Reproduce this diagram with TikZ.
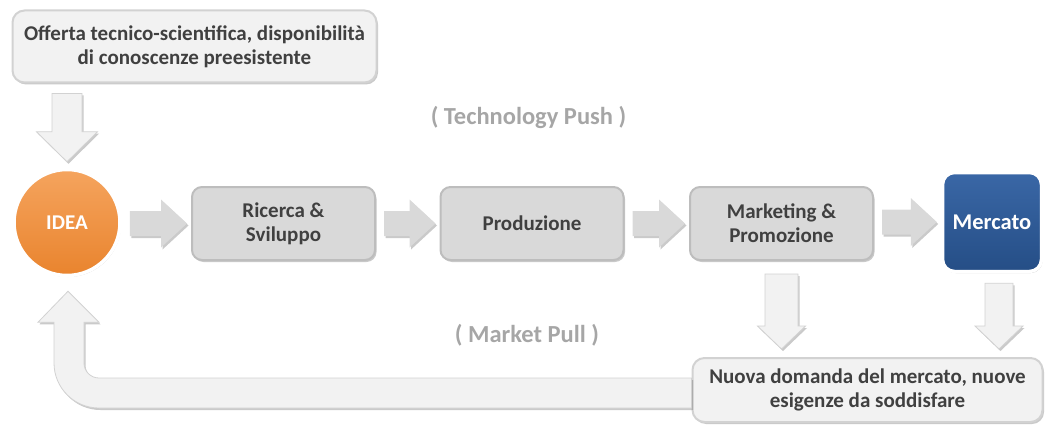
\documentclass[tikz,border=0pt]{standalone}
\usepackage{fontspec}
\setmainfont{Carlito}
\usetikzlibrary{calc,shadows}
\definecolor{txt}{HTML}{404040}
\definecolor{boxfill}{HTML}{D9D9D9}
\definecolor{boxdraw}{HTML}{BDBDBD}
\definecolor{lightfill}{HTML}{F2F2F2}
\definecolor{lightdraw}{HTML}{D2D2D2}
\definecolor{ideatop}{HTML}{F5A45E}
\definecolor{ideabot}{HTML}{E9842E}
\definecolor{merctop}{HTML}{3A67A6}
\definecolor{mercbot}{HTML}{254E86}
\definecolor{labelgray}{HTML}{A6A6A6}
\definecolor{arrowfill}{HTML}{D9D9D9}
\tikzset{
  shad/.style={drop shadow={shadow xshift=1.5pt,shadow yshift=-2pt,opacity=0.35,fill=black!60}},
  graybox/.style={shad,rectangle,rounded corners=10pt,fill=boxfill,draw=boxdraw,line width=2pt,
    minimum width=183pt,minimum height=73pt,align=center,text=txt,font=\fontsize{21}{24}\selectfont\bfseries},
  lightbox/.style={shad,rectangle,rounded corners=12pt,fill=lightfill,draw=lightdraw,line width=2pt,
    align=center,text=txt,font=\fontsize{21}{24}\selectfont\bfseries},
  hblock/.style={fill=arrowfill,draw=none,shad},
  vblock/.style={fill=lightfill,draw=lightdraw,line width=0.8pt,shad},
  lbl/.style={text=labelgray,font=\fontsize{24.5}{28}\selectfont\bfseries},
}
% horizontal block arrow between two nodes: #1 from, #2 to
\newcommand\harrow[2]{%
  \path[hblock] let \p1=($(#1.east)+(8,0)$), \p2=($(#2.west)+(-4,0)$) in
    (\x1,\y2+12.5pt) -- (\x2-26pt,\y2+12.5pt) -- (\x2-26pt,\y2+24pt) -- (\x2,\y2)
    -- (\x2-26pt,\y2-24pt) -- (\x2-26pt,\y2-12.5pt) -- (\x1,\y2-12.5pt) -- cycle;}
% vertical block arrow: #1 top coordinate, #2 tip coordinate, #3 shaft half, #4 head half, #5 head length
\newcommand\varrow[5]{%
  \path[vblock] let \p1=(#1), \p2=(#2) in
    (\x2-#3,\y1) -- (\x2+#3,\y1) -- (\x2+#3,\y2+#5) -- (\x2+#4,\y2+#5) -- (\x2,\y2)
    -- (\x2-#4,\y2+#5) -- (\x2-#3,\y2+#5) -- cycle;}
\begin{document}
\begin{tikzpicture}[x=1pt,y=-1pt]
\useasboundingbox (0,0) rectangle (1046,433);

% nodes
\node[lightbox,minimum width=364pt,minimum height=72pt] (offerta) at (194.5,46.5)
  {Offerta tecnico-scientifica, disponibilità\\di conoscenze preesistente};
\node[circle,minimum size=106pt,draw=white,line width=3.5pt,top color=ideatop,bottom color=ideabot,
  drop shadow={shadow xshift=1pt,shadow yshift=-1.5pt,opacity=0.3,fill=black!60},
  text=white,font=\fontsize{21}{24}\selectfont\bfseries] (idea) at (67,222.5) {IDEA};
\node[graybox] (rs) at (283.5,223.5) {Ricerca \&\\Sviluppo};
\node[graybox] (prod) at (532,223.5) {Produzione};
\node[graybox] (mkt) at (781.5,223.5) {Marketing \&\\Promozione};
\node[rectangle,rounded corners=12pt,minimum width=99pt,minimum height=99pt,draw=white,line width=3.5pt,
  top color=merctop,bottom color=mercbot,
  drop shadow={shadow xshift=1pt,shadow yshift=-1.5pt,opacity=0.5,fill=black!70},
  text=white,font=\fontsize{22.5}{26}\selectfont\bfseries] (merc) at (992,222) {Mercato};
\node[lightbox,minimum width=350pt,minimum height=64pt] (nuova) at (867.5,390)
  {Nuova domanda del mercato, nuove\\esigenze da soddisfare};

% labels
\node[lbl] (tp) at (528.5,117) {( Technology Push )};
\node[lbl] (mp) at (527,335) {( Market Pull )};

% horizontal arrows
\harrow{idea}{rs}
\harrow{rs}{prod}
\harrow{prod}{mkt}
\harrow{mkt}{merc}

% vertical arrows
\coordinate (t1) at ($(offerta.south)+(0,10)$);
\coordinate (t1s) at (t1 -| idea.north);
\coordinate (t1e) at ($(idea.north)+(0,-6)$);
\varrow{t1s}{t1e}{15pt}{30.5pt}{30pt}
\coordinate (m1s) at ($(mkt.south)+(0,13)$);
\coordinate (m1e) at ($(nuova.north -| mkt.south)+(0,-8)$);
\varrow{m1s}{m1e}{16.5pt}{24pt}{23pt}
\coordinate (m2s) at ($(merc.south)+(7,10)$);
\coordinate (m2e) at ($(nuova.north -| m2s)+(0,-8)$);
\varrow{m2s}{m2e}{14pt}{24pt}{23pt}

% U-turn arrow back to IDEA (canvas y points up inside let)
\coordinate (ustart) at ($(nuova.west)+(0,3)$);
\coordinate (utip) at ($(idea.south)+(1,14)$);
\path[vblock] let \p1=(ustart), \p2=(utip) in
  (\x1,\y1+15pt) -- (\x2+31pt,\y1+15pt)
  .. controls (\x2+22.7pt,\y1+15pt) and (\x2+16pt,\y1+21.7pt) .. (\x2+16pt,\y1+30pt)
  -- (\x2+16pt,\y2-31pt) -- (\x2+31pt,\y2-31pt) -- (\x2,\y2)
  -- (\x2-30pt,\y2-31pt) -- (\x2-14pt,\y2-31pt)
  -- (\x2-14pt,\y1+30pt)
  .. controls (\x2-14pt,\y1+5.1pt) and (\x2+6.1pt,\y1-15pt) .. (\x2+31pt,\y1-15pt)
  -- (\x1,\y1-15pt) -- cycle;
\end{tikzpicture}
\end{document}
